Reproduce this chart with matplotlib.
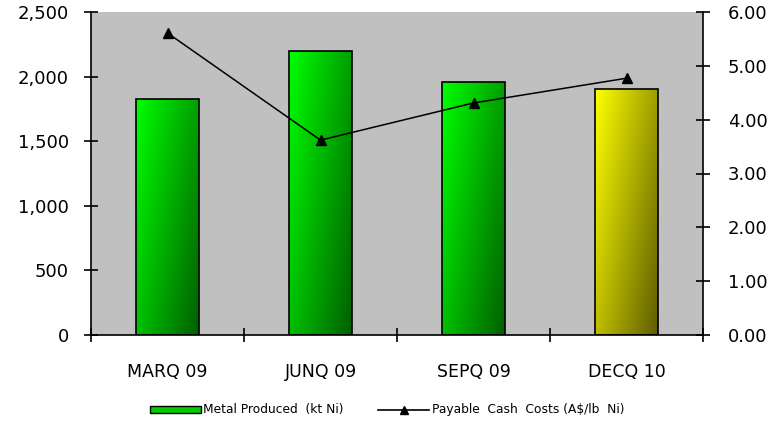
import numpy as np
import matplotlib
matplotlib.use("Agg")
import matplotlib.pyplot as plt
from matplotlib.colors import LinearSegmentedColormap
from matplotlib.ticker import FuncFormatter, FixedLocator
from matplotlib.lines import Line2D
from matplotlib.patches import Rectangle

quarters = ["MARQ 09", "JUNQ 09", "SEPQ 09", "DECQ 10"]
metal_produced = [1827, 2198, 1958, 1904]
cash_costs = [5.61, 3.62, 4.31, 4.77]

green_map = LinearSegmentedColormap.from_list("grn", ["#00ff00", "#006000"])
yellow_map = LinearSegmentedColormap.from_list("yel", ["#ffff00", "#5e5e00"])
bar_maps = [green_map, green_map, green_map, yellow_map]

plt.rcParams["font.family"] = "DejaVu Sans"
fig = plt.figure(figsize=(7.74, 4.24), dpi=100)
ax = fig.add_axes([91 / 774, 1 - 335 / 424, 612 / 774, 323 / 424])
ax.set_facecolor("#c0c0c0")

x = np.arange(len(quarters))
bars = ax.bar(x, metal_produced, width=0.41, facecolor="none",
              edgecolor="black", linewidth=1.2, zorder=3)

# diagonal shading clipped to each bar, bright at top-left
yy, xx = np.mgrid[0:1:200j, 0:1:60j]
grad = 0.6 * xx + 0.4 * yy
for b, cmap in zip(bars, bar_maps):
    x0, y0 = b.get_x(), b.get_y()
    w, h = b.get_width(), b.get_height()
    im = ax.imshow(grad, cmap=cmap, extent=[x0, x0 + w, y0, y0 + h],
                   origin="upper", aspect="auto", zorder=2, vmin=0, vmax=1)
    im.set_clip_path(b)

ax.set_xlim(-0.5, 3.5)
ax.set_ylim(0, 2500)
ax.set_xticks(x)
ax.set_xticklabels(quarters, fontsize=12.5)
ax.set_xticks(np.arange(-0.5, 3.6, 1), minor=True)
ax.tick_params(axis="x", which="major", length=0, pad=20)
ax.tick_params(axis="x", which="minor", direction="inout", length=10, width=1.2)
ax.yaxis.set_major_locator(FixedLocator(np.arange(0, 2501, 500)))
ax.yaxis.set_major_formatter(FuncFormatter(lambda v, p: f"{int(v):,}"))
ax.tick_params(axis="y", direction="inout", length=10, width=1.2, labelsize=13, pad=11)
for s in ["top", "right"]:
    ax.spines[s].set_visible(False)
ax.spines["left"].set_linewidth(1.2)
ax.spines["bottom"].set_linewidth(1.2)

ax2 = ax.twinx()
ax2.plot(x, cash_costs, color="black", linewidth=1.1, marker="^",
         markersize=7.5, zorder=5)
ax2.set_ylim(0, 6)
ax2.yaxis.set_major_locator(FixedLocator(np.arange(0, 6.01, 1)))
ax2.yaxis.set_major_formatter(FuncFormatter(lambda v, p: f"{v:.2f}"))
ax2.tick_params(axis="y", direction="inout", length=10, width=1.2, labelsize=13, pad=13)
for s in ["top", "left", "bottom"]:
    ax2.spines[s].set_visible(False)
ax2.spines["right"].set_linewidth(1.2)

handles = [Rectangle((0, 0), 1, 1, facecolor="#00cc00", edgecolor="black"),
           Line2D([], [], color="black", marker="^", markersize=6, linewidth=1.2)]
fig.legend(handles, ["Metal Produced  (kt Ni)", "Payable  Cash  Costs (A$/lb  Ni)"],
           loc="center", bbox_to_anchor=(0.5, 1 - 410 / 424), ncol=2, frameon=False,
           fontsize=8.8, handlelength=4.2, handleheight=0.5, columnspacing=2.8,
           handletextpad=0.2)

fig.savefig("out.png", dpi=100)
